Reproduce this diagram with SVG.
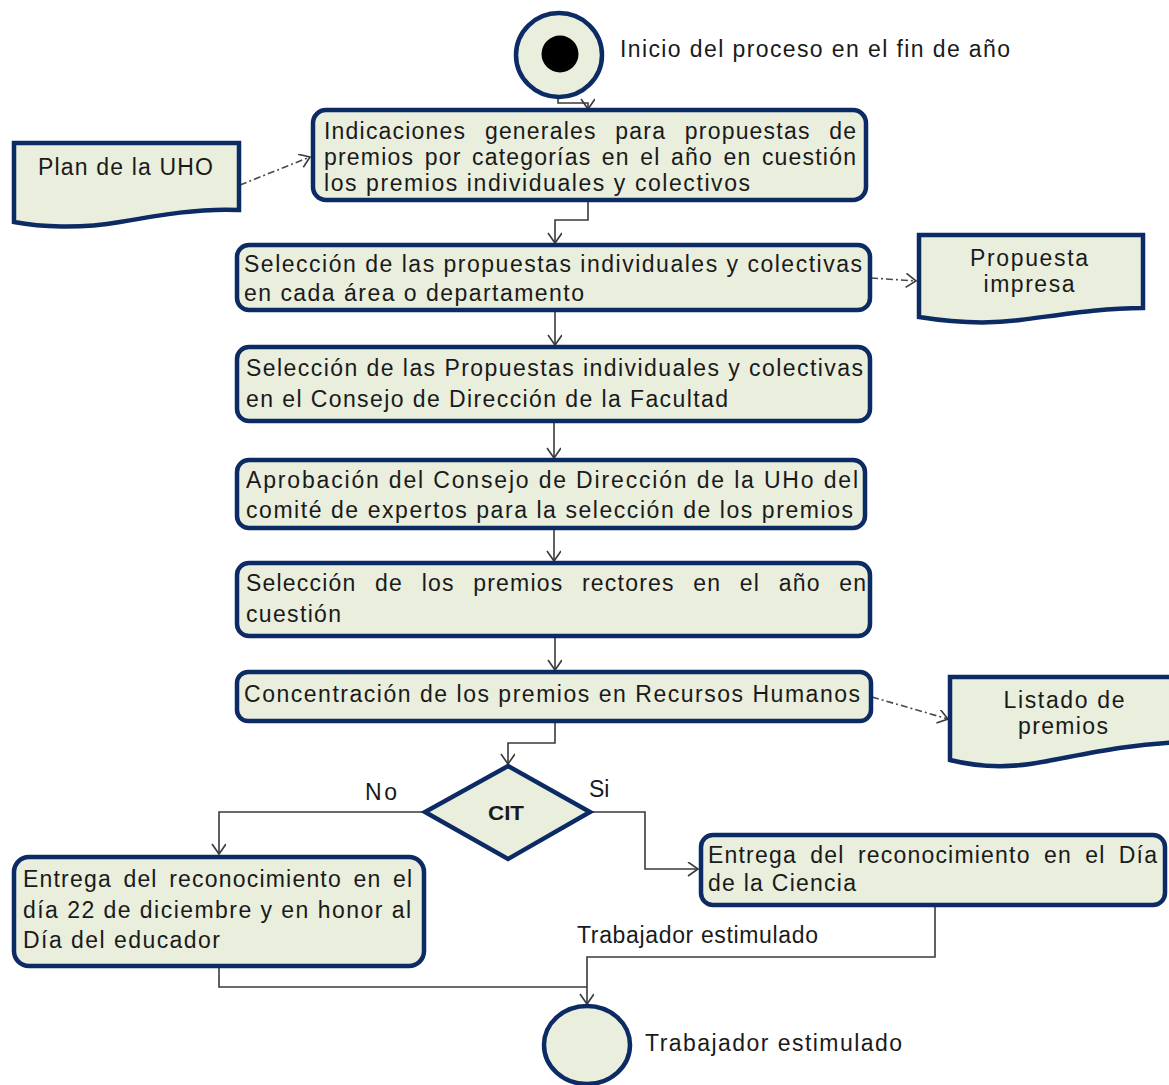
<svg xmlns="http://www.w3.org/2000/svg" width="1169" height="1085" viewBox="0 0 1169 1085">
<style>
.box{fill:#e9eedd;stroke:#0c2a64;stroke-width:4.5}
.doc{fill:#e9eedd;stroke:#0c2a64;stroke-width:4.5;stroke-linejoin:miter}
.t{font-family:"Liberation Sans",Arial,sans-serif;font-size:23px;fill:#1a1a1a}
.j{letter-spacing:1.2px}
.lbl{font-family:"Liberation Sans",Arial,sans-serif;font-size:23px;fill:#1a1a1a}
.flow{fill:none;stroke:#3a3a3a;stroke-width:1.6;marker-end:url(#arr)}
.dep{fill:none;stroke:#4a4a4a;stroke-width:1.6;stroke-dasharray:7,3,2,3;marker-end:url(#arr)}
</style>
<defs>
<marker id="arr" markerUnits="userSpaceOnUse" markerWidth="14" markerHeight="16" refX="11" refY="7" orient="auto">
<path d="M1,0 L11,7 L1,14" fill="none" stroke="#3a3a3a" stroke-width="1.6"/>
</marker>
</defs>
<rect width="1169" height="1085" fill="#ffffff"/>

<g id="connectors">
<path class="flow" d="M558,97 V103 H588 V109"/>
<path class="dep" d="M240,185 L310,157"/>
<path class="flow" d="M588,200 V220 H555 V243"/>
<path class="dep" d="M871,278 L916,281"/>
<path class="flow" d="M555,310 V345"/>
<path class="flow" d="M554,421 V458"/>
<path class="flow" d="M554,528 V561"/>
<path class="flow" d="M555,636 V670"/>
<path class="dep" d="M872,697 L948,719"/>
<path class="flow" d="M555,722 V743 H508 V764"/>
<path class="flow" d="M425,812 H219 V854"/>
<path class="flow" d="M590,812 H645 V869 H698"/>
<path class="flow" d="M935,905 V957 H587 V1004"/>
<path fill="none" stroke="#3a3a3a" stroke-width="1.6" d="M219,967 V987 H587"/>
<text class="lbl" x="365" y="800" textLength="32" lengthAdjust="spacing">No</text>
<text class="lbl" x="589" y="797">Si</text>
<text class="lbl" x="577" y="943" font-size="22" textLength="241" lengthAdjust="spacing">Trabajador estimulado</text>
</g>

<g id="start">
<ellipse cx="559" cy="55" rx="43" ry="42" fill="#e9eedd" stroke="#0c2a64" stroke-width="4.5"/>
<circle cx="560" cy="54" r="18.5" fill="#000000"/>
<text class="t" x="620" y="57" textLength="390" lengthAdjust="spacing">Inicio del proceso en el fin de año</text>
</g>

<g id="plan-uho">
<path class="doc" d="M14,143 H239 V210 C200,208 160,215 120,222 C80,229 40,227 14,222 Z"/>
<text class="t" x="38" y="175" textLength="175" lengthAdjust="spacing">Plan de la UHO</text>
</g>

<g id="indicaciones">
<rect class="box" x="313" y="110" width="553" height="90" rx="13"/>
<text class="t j" y="139"><tspan x="324">Indicaciones </tspan><tspan x="484.9">generales </tspan><tspan x="615.3">para </tspan><tspan x="684.8">propuestas </tspan><tspan x="829.2">de</tspan></text>
<text class="t j" y="165"><tspan x="324">premios </tspan><tspan x="424.7">por </tspan><tspan x="472">categorías </tspan><tspan x="601.8">en </tspan><tspan x="640.3">el </tspan><tspan x="671">año </tspan><tspan x="723.5">en </tspan><tspan x="761.9">cuestión</tspan></text>
<text class="t" x="324" y="191" textLength="426" lengthAdjust="spacing">los premios individuales y colectivos</text>
</g>

<g id="seleccion-area">
<rect class="box" x="237" y="245" width="633" height="65" rx="12"/>
<text class="t" x="244" y="272" textLength="618" lengthAdjust="spacing">Selección de las propuestas individuales y colectivas</text>
<text class="t" x="244" y="301" textLength="340" lengthAdjust="spacing">en cada área o departamento</text>
</g>

<g id="propuesta-impresa">
<path class="doc" d="M919,235 H1143 V308 C1100,308 1060,315 1020,320 C982,325 950,322 919,317 Z"/>
<text class="t" x="1029" y="266" text-anchor="middle" textLength="118" lengthAdjust="spacing">Propuesta</text>
<text class="t" x="1029" y="292" text-anchor="middle" textLength="91" lengthAdjust="spacing">impresa</text>
</g>

<g id="seleccion-facultad">
<rect class="box" x="237" y="347" width="633" height="74" rx="12"/>
<text class="t" x="246" y="376" textLength="617" lengthAdjust="spacing">Selección de las Propuestas individuales y colectivas</text>
<text class="t" x="246" y="407" textLength="482" lengthAdjust="spacing">en el Consejo de Dirección de la Facultad</text>
</g>

<g id="aprobacion">
<rect class="box" x="237" y="460" width="628" height="68" rx="12"/>
<text class="t" x="246" y="488" textLength="612" lengthAdjust="spacing">Aprobación del Consejo de Dirección de la UHo del</text>
<text class="t" x="246" y="518" textLength="607" lengthAdjust="spacing">comité de expertos para la selección de los premios</text>
</g>

<g id="premios-rectores">
<rect class="box" x="237" y="563" width="633" height="73" rx="12"/>
<text class="t j" y="591"><tspan x="246">Selección </tspan><tspan x="375.1">de </tspan><tspan x="421.7">los </tspan><tspan x="473.2">premios </tspan><tspan x="582">rectores </tspan><tspan x="693.3">en </tspan><tspan x="739.8">el </tspan><tspan x="778.7">año </tspan><tspan x="839.2">en</tspan></text>
<text class="t" x="246" y="622" textLength="95" lengthAdjust="spacing">cuestión</text>
</g>

<g id="concentracion">
<rect class="box" x="237" y="672" width="634" height="49" rx="11"/>
<text class="t" x="244" y="702" textLength="616" lengthAdjust="spacing">Concentración de los premios en Recursos Humanos</text>
</g>

<g id="listado-premios">
<path class="doc" d="M950,677 H1185 V742 C1120,744 1070,758 1030,764 C995,769 970,765 950,760 Z"/>
<text class="t" x="1064" y="708" text-anchor="middle" textLength="121" lengthAdjust="spacing">Listado de</text>
<text class="t" x="1063" y="734" text-anchor="middle" textLength="90" lengthAdjust="spacing">premios</text>
</g>

<g id="cit">
<path class="doc" d="M508,766 L590,812 L508,859 L425,812 Z"/>
<text x="506" y="820" text-anchor="middle" font-family="'Liberation Sans',Arial,sans-serif" font-size="21" font-weight="bold" fill="#1a1a1a" textLength="36" lengthAdjust="spacingAndGlyphs">CIT</text>
</g>

<g id="entrega-educador">
<rect class="box" x="14" y="857" width="410" height="109" rx="15"/>
<text class="t j" y="887"><tspan x="23">Entrega </tspan><tspan x="123.4">del </tspan><tspan x="169.2">reconocimiento </tspan><tspan x="353.4">en </tspan><tspan x="392.9">el</tspan></text>
<text class="t" x="23" y="918" textLength="388" lengthAdjust="spacing">día 22 de diciembre y en honor al</text>
<text class="t" x="23" y="948" textLength="197" lengthAdjust="spacing">Día del educador</text>
</g>

<g id="entrega-ciencia">
<rect class="box" x="701" y="835" width="464" height="70" rx="12"/>
<text class="t j" y="863"><tspan x="708">Entrega </tspan><tspan x="810.3">del </tspan><tspan x="857.9">reconocimiento </tspan><tspan x="1043.9">en </tspan><tspan x="1085.2">el </tspan><tspan x="1118.8">Día</tspan></text>
<text class="t" x="708" y="891" textLength="148" lengthAdjust="spacing">de la Ciencia</text>
</g>

<g id="end">
<ellipse cx="587" cy="1045" rx="43" ry="39" fill="#e9eedd" stroke="#0c2a64" stroke-width="4.5"/>
<text class="t" x="645" y="1051" textLength="257" lengthAdjust="spacing">Trabajador estimulado</text>
</g>
</svg>
